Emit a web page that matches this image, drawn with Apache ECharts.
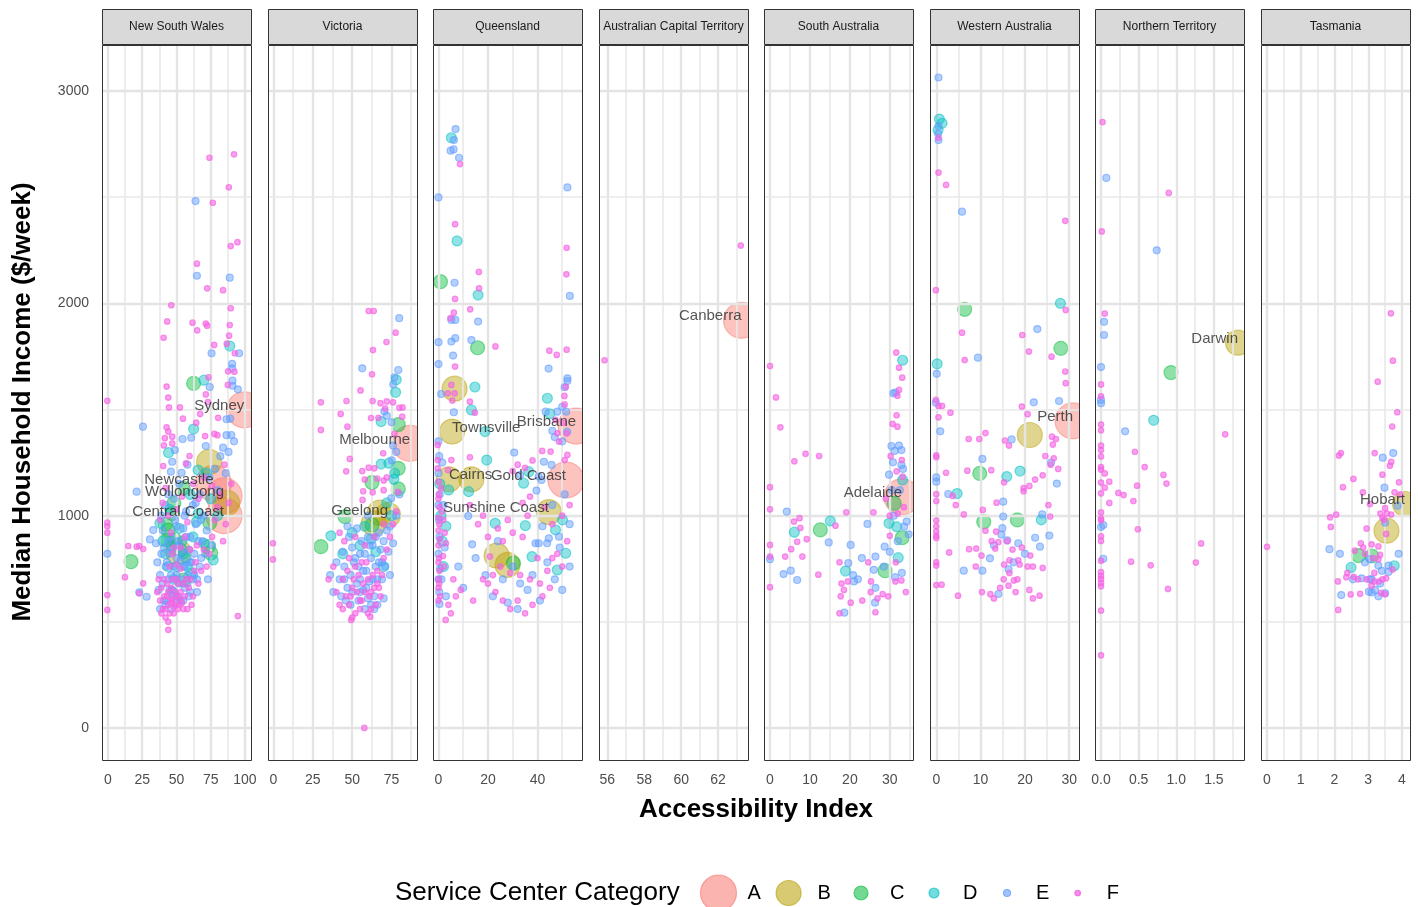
<!DOCTYPE html>
<html><head><meta charset="utf-8">
<script src="https://cdn.jsdelivr.net/npm/echarts@6/dist/echarts.min.js"></script>
<style>html,body{margin:0;padding:0;background:#fff}#c{width:1418px;height:907px}</style>
</head><body><div id="c"></div><script>
// ---------- DATA ----------
const states = ['New South Wales','Victoria','Queensland','Australian Capital Territory','South Australia','Western Australia','Northern Territory','Tasmania'];
const categories = ['A','B','C','D','E','F'];
const xLimits = [[-4.38,104.4],[-3.5,91.2],[-2.22,58.0],[55.55,63.62],[-1.5,35.8],[-1.42,32.2],[-0.08,1.90],[-0.178,4.237]];
const xTicks = [[0,25,50,75,100],[0,25,50,75],[0,20,40],[56,58,60,62],[0,10,20,30],[0,10,20,30],[0,0.5,1,1.5],[0,1,2,3,4]];
const xMinor = [[12.5,37.5,62.5,87.5],[12.5,37.5,62.5,87.5],[10,30,50],[57,59,61,63],[5,15,25,35],[5,15,25],[0.25,0.75,1.25,1.75],[0.5,1.5,2.5,3.5]];
const yLimits = [-151,3217];
const yTicks = [0,1000,2000,3000];
const yMinor = [500,1500,2500];

// New South Wales
const nswA = [[99.5,1498,'Sydney'],[77,1152,'Newcastle'],[84.7,1093,'Wollongong'],[84.7,1000,'Central Coast']];
const nswB = [[73.8,1253],[51.2,830],[87,1060]];
const nswC = [[62.5,1623],[16.8,783],[48.1,1058],[54.9,1129],[74.3,966],[73.1,854],[42.8,885],[44,932],[52.5,838],[54.9,697],[42,960],[49,885],[75,824],[47,1010]];
const nswD = [[88.9,1799],[70,1638],[62.5,1408],[44.2,1297],[65.8,1215],[37.9,964],[64.6,972],[76.8,791],[40,880],[45,1030],[48,700],[52,940],[55,820],[58,760],[62,900],[66,1010],[70,870],[75,1080],[80,1000],[60,1100],[44,760],[72,1200],
 [42,820],[46,860],[50,760],[54,880],[57,800],[61,730],[47,640]];
const nswE = [[-0.5,820],[20.9,1113],[22.8,639],[28.2,618],[30.6,888],[33,932],[25.5,1419],[54.4,1361],[48.8,1309],[46.9,1254],[45.9,1207],[53.7,1202],[60.7,1367],[71.4,1328],[86.5,1379],[89.2,1457],[86.5,1454],[90.6,1715],[90.6,1694],[90.9,1636],[90.9,1612],[94.8,1595],[74.3,1606],[75.6,1765],[95.7,1765],[63.9,2482],[64.9,2130],[88.9,2121],
 [36,780],[38,720],[40,680],[41,850],[42,760],[43,600],[44,700],[45,820],[46,900],[47,650],[48,760],[49,980],[50,720],[51,620],[52,860],[53,790],[54,700],[55,940],[56,760],[57,1020],[58,680],[59,840],[60,900],[61,780],[62,1050],[63,720],[64,960],[66,880],[67,1100],[68,800],[70,1000],[72,930],[74,1180],[76,860],[78,1220],[80,1120],[82,1280],[84,1320],[86,1200],[88,1300],[90,1380],[92,1350],[38,560],[42,580],[46,560],[50,590],[55,600],[60,640],[65,700],[35,870],[39,1000],[44,1100],[52,1150],[58,1240],
 [37,650],[39,820],[41,600],[43,780],[44,880],[45,650],[46,720],[47,840],[48,620],[49,700],[50,800],[51,880],[52,680],[53,600],[54,830],[55,760],[56,660],[57,900],[58,720],[59,620],[60,780],[62,700],[63,820],[65,640],[67,760],[69,880],[71,820],[73,700],[40,930],[42,1050],[48,1080],[50,950],[56,1000],[64,1060],[68,980]];
const nswF = [[74.1,2686],[92,2702],[88.2,2547],[76.5,2474],[89.6,2270],[94.5,2288],[64.9,2187],[72.4,2071],[84,2062],[46.2,1991],[89.6,1977],[43.2,1915],[61.7,1909],[71.4,1905],[72.4,1895],[88.9,1898],[65.1,1873],[40.6,1838],[88.4,1848],[77.5,1804],[86.7,1810],[92.6,1765],[87.7,1680],[92.3,1678],[87.5,1616],[42.8,1608],[73.4,1652],[44,1556],[44.5,1510],[52.5,1510],[71.4,1571],[72.9,1535],[80.4,1461],[-0.5,1541],[54.7,1457],[64.4,1438],[67.3,1479],[42.8,1416],[44,1396],[41.5,1365],[46.9,1372],[70.9,1375],[77.7,1385],[79.9,1379],[40.8,1331],[46.9,1340],[59.5,1281],[40.3,1234],[56.9,1246],
 [-0.5,967],[-0.5,950],[-0.5,920],[-0.5,626],[-0.5,556],[12.4,710],[14.8,857],[20.9,854],[22.8,857],[25.7,843],[22.8,634],[25.7,681],[44,462],[94.8,527],
 [36,640],[38,600],[40,560],[41,700],[42,520],[43,620],[44,580],[45,540],[46,660],[47,600],[48,570],[49,640],[50,700],[51,560],[52,610],[53,750],[54,590],[55,680],[56,620],[58,560],[60,700],[62,620],[64,780],[66,680],[68,740],[70,840],[72,760],[74,820],[76,900],[78,980],[80,1040],[82,1100],[84,880],[86,960],[88,1060],[38,980],[40,1060],[42,1130],[44,1000],[46,920],[48,850],[50,1030],[54,1090],[58,970],[62,1150],[66,1080],[70,1180],[76,1140],[85,1240],[90,1150],
 [37,700],[39,660],[41,620],[43,680],[44,640],[46,590],[47,700],[48,540],[49,580],[50,620],[51,680],[52,580],[53,640],[55,560],[57,700],[59,660],[61,580],[63,740],[45,760],[47,820],[50,770],[53,850],[56,900],[60,840],[65,860],[39,540],[42,560],[44,500],[46,610]];

// Victoria
const vicA = [[86.8,1340,'Melbourne']];
const vicB = [[72.8,1003,'Geelong'],[63.7,964],[67.5,1014]];
const vicC = [[79.3,1429],[79.3,1223],[79.3,1126],[62.6,1156],[45.5,995],[30.1,854],[62.6,956]];
const vicD = [[36.5,905],[68.4,1443],[68.4,1243],[73.3,1247],[77.6,1581],[77,1200],[76.5,1171],[50,920],[55,860],[62,890],[65,830],[70,760],[58,950],[44,820],[75,1000],[72,1060],[78,1640]];
const vicE = [[79.9,1930],[56.4,1694],[79.3,1686],[76.9,1652],[76.1,1619],[70.5,1491],[75.2,1260],[74.8,1082],[72,1470],[75,1440],[78,1300],[76,1330],[48,900],[50,850],[52,800],[54,760],[55,700],[56,880],[57,650],[58,820],[59,740],[60,900],[61,690],[62,800],[63,860],[64,620],[65,760],[66,700],[67,920],[68,840],[69,780],[70,880],[72,930],[74,950],[45,760],[44,830],[42,700],[40,780],[38,640],[36,720],[46,600],[50,640],[54,600],[58,560],[62,580],[66,580],[70,610],[74,720],[76,870],[78,1000],[80,1100],[47,950],[53,940],[60,1000],
 [49,720],[51,780],[53,680],[55,820],[57,740],[59,660],[61,860],[63,700],[65,900],[67,780],[69,700],[71,760],[73,830],[47,660],[45,700],[43,620],[49,580],[55,640],[60,610],[64,560]];
const vicF = [[60.5,1964],[63.7,1964],[77.6,1862],[71.8,1818],[63.2,1780],[62.6,1666],[55.3,1590],[30.1,1534],[46.4,1540],[63,1540],[68,1530],[72,1538],[76,1534],[82,1510],[71,1505],[80,1508],[42.7,1479],[62,1460],[66.7,1461],[81.8,1466],[30.1,1404],[47,1419],[76.9,1385],[69.7,1294],[48.5,1267],[46.2,1209],[56.4,1210],[60.5,1226],[64.1,1223],[58,1170],[66,1175],[70,1165],[72,1180],[57,1115],[63,1110],[70,1120],[79,1112],[56.6,1074],[-0.4,870],[-0.4,794],[57.7,0],[49.4,509],[61.5,524],
 [44,700],[46,620],[48,580],[50,660],[52,540],[54,720],[55,600],[56,780],[58,640],[60,700],[62,560],[64,660],[66,740],[68,620],[70,800],[72,840],[74,900],[76,960],[78,1020],[40,640],[42,580],[45,880],[48,800],[52,900],[58,860],[64,900],[70,960],[35,700],[38,760],[42,920],[60,540],[66,680],[52,760],
 [47,740],[49,620],[51,700],[53,640],[55,560],[57,680],[59,780],[61,620],[63,720],[65,580],[67,660],[69,720],[44,560],[50,520],[56,600],[62,640]];

// Queensland
const qldA = [[55.6,1422,'Brisbane'],[51.5,1168,'Gold Coast']];
const qldB = [[5.5,1396,'Townsville'],[4.2,1171,'Cairns'],[6.5,1598],[13.3,1171],[44.6,1017,'Sunshine Coast'],[23.5,812],[27.9,768]];
const qldC = [[0.8,2102],[15.8,1791],[30.3,776]];
const qldD = [[5.2,2780],[7.5,2294],[16,2039],[14.7,1606],[44,1553],[13.3,1498],[18.8,1396],[36.5,1207],[34.4,1153],[4.1,1121],[12.2,1113],[19.5,1262],[47.3,933],[50.1,980],[35.1,953],[22.9,964],[51.4,823],[37.8,807],[48,744],[1,1000],[1.5,880],[2,760],[0.5,1150],[3,950],[45,1480]];
const qldE = [[6.9,2821],[6.2,2769],[4.9,2719],[6.1,2725],[8.3,2686],[0,2499],[52.1,2546],[6.5,2097],[53.1,2035],[5.2,1922],[6.8,1922],[16,1914],[0,1817],[5.2,1820],[6.8,1836],[13.3,1827],[5.9,1754],[0,1714],[44.5,1693],[52.1,1647],[52.1,1634],[51,1605],[1.1,1573],[6.2,1487],[43.3,1490],[48,1490],[50,1513],[51.6,1490],[47,1370],[50,1350],[52,1395],[46,1400],[30.6,1297],[42.6,1254],[45.7,1239],[33,1192],[40.5,1184],[41.6,1168],[39.6,1118],[12,998],[44.6,893],[48.7,901],[39.2,870],[40.5,870],[43.9,870],[13.6,865],[0.4,584],
 [0,1350],[0.3,1280],[0,1200],[0.5,1100],[0,1050],[0.2,980],[0.4,900],[0,820],[0.6,750],[0,700],[0.3,640],[1.5,1250],[2,1050],[2.5,850],[1.2,700],[3,620],
 [15,800],[19,720],[26,700],[30,760],[33,680],[36,650],[38,720],[41,600],[44,780],[47,700],[50,650],[53,760],[22,620],[28,590],[32,560],[10,660],[42,950],[46,1050],[51,1100],[53,960],[49,850],[24,880],[8,760]];
const qldF = [[8.7,2656],[6.7,2373],[51.8,2262],[16.3,2148],[51.7,2137],[16.4,2071],[6.7,2021],[12.8,1972],[6.2,1956],[4.8,1930],[23,1797],[44.8,1777],[47.8,1757],[51.8,1782],[6.7,1702],[50.9,1564],[5.2,1616],[3.8,1576],[6.5,1576],[5.6,1542],[12.7,1537],[14.7,1485],[51,1524],[51.4,1607],[47.3,1451],[50.5,1438],[51.8,1388],[48,1388],[-0.3,1333],[-0.3,1262],[-0.3,1223],[3.8,1215],[5.2,1262],[12.7,1275],[41.9,1305],[45.3,1302],[48.7,1349],[52.1,1286],[51,1262],[32,1240],[35,1225],[38,1260],[30,1210],
 [0,1160],[0.2,1100],[0,1080],[0.4,1040],[0,990],[0.3,960],[0,930],[0.5,890],[0,860],[0.2,800],[0,780],[0.4,740],[0,700],[0.3,680],[0,660],[0.6,620],[0,600],[1,1130],[1.5,1020],[2,980],[2.5,920],[3,870],[1.8,810],[2.2,760],[2.9,509],[5,540],[4,580],[6,700],[9,650],[7,620],
 [12.7,1050],[16,960],[18,1000],[20,900],[24,940],[28,980],[30,920],[34,900],[36,1000],[26,880],[20.8,807],[25,760],[29,730],[33,720],[37,700],[41,680],[44,740],[46,800],[48,820],[50,760],[52,880],[18,700],[20,680],[23,640],[26,600],[29,560],[32,600],[35,540],[38,580],[42,620],[45,660],[22,720],[14,600],[40,800],[46,960],[50,1000],[53,1050],[43,1040],[37,1090],[34,1060]];

// Australian Capital Territory
const actA = [[63.27,1920,'Canberra']];
const actB = [];
const actC = [];
const actD = [];
const actE = [];
const actF = [[63.23,2272],[55.85,1732]];

// South Australia
const saA = [[33.06,1088,'Adelaide']];
const saB = [];
const saC = [[31.1,1058],[12.6,933],[33.1,896],[28.8,741]];
const saD = [[33.2,1732],[33.2,1168],[15.1,975],[6.1,922],[29.8,964],[31.7,948],[18.9,739],[32.1,802]];
const saE = [[30.9,1576],[31.4,1580],[30.4,1328],[31.2,1305],[32.9,1309],[32.3,1330],[30.8,1251],[32.9,1239],[33.3,1220],[29.8,1193],[4.2,1019],[24.4,961],[34.2,972],[33.6,948],[34.7,912],[14.7,874],[20.2,862],[28.7,854],[26.4,807],[0,795],[3.4,725],[5.2,741],[6.8,697],[19.6,776],[20.8,720],[21,690],[23,800],[26,745],[28.5,760],[31.3,710],[33,730],[26.4,660],[26.3,590],[18.6,543],[22,700],[30,830],[32,880],[31,1000],[32.5,1120],[30.5,1120]];
const saF = [[31.6,1768],[32.3,1697],[33.1,1650],[0,1705],[1.5,1557],[32.3,1592],[31.9,1565],[2.6,1416],[31.7,1473],[30.7,1432],[31.9,1419],[8.9,1291],[12.3,1281],[6.1,1256],[30.2,1280],[33,1262],[31.7,1209],[33.2,1184],[0,1134],[0,1030],[19.1,1016],[25.9,1016],[6,972],[7.4,988],[7.6,942],[16.4,953],[0,862],[0,807],[0,663],[3.8,807],[5.3,842],[8.1,807],[9.2,889],[6.8,877],[12.1,722],[17.4,780],[17.9,680],[19.5,690],[18.5,650],[17.7,620],[20.2,590],[23.1,600],[25.2,640],[26.9,610],[29.6,620],[25.3,690],[28.2,630],[31.4,690],[32.9,695],[34,640],[17.4,540],[26.4,545],[30,1000],[29,1080],[32,1010],[33.5,1040],[30,905],[31.5,780],[24.6,780]];

// Western Australia
const waA = [[30.86,1446,'Perth']];
const waB = [[21.1,1380]];
const waC = [[6.4,1972],[28.1,1788],[9.8,1199],[10.7,971],[18.3,980]];
const waD = [[0.7,2868],[1.3,2848],[0.4,2817],[28,2000],[0.2,1715],[18.9,1210],[15.9,1184],[4.7,1104],[23.7,980]];
const waE = [[0.5,3064],[0.5,2835],[0.4,2800],[0.5,2769],[5.8,2432],[22.8,1879],[9.4,1744],[0.1,1668],[-0.1,1532],[22,1534],[27.7,1540],[0.9,1397],[17,1359],[10.4,1267],[25.9,1250],[27.2,1151],[0,1180],[0,1160],[2.7,1102],[15.1,1066],[23.9,1006],[15.1,996],[14.9,941],[14.7,911],[16,884],[22.3,896],[25.5,906],[23.4,854],[12.1,799],[17.4,780],[16.3,747],[10.4,741],[6.2,741],[14,631],[18.5,870],[20,820],[13,860]];
const waF = [[0.5,2780],[0.5,2616],[2.2,2558],[29.1,2389],[-0.1,2062],[29.2,1969],[5.8,1862],[19.4,1851],[20.9,1773],[26,1749],[29.1,1679],[29.2,1624],[6.4,1733],[-0.1,1545],[0.5,1517],[1.3,1517],[0.5,1463],[3.2,1485],[19.3,1514],[20.6,1478],[7.3,1361],[9.7,1361],[11.1,1389],[15.5,1354],[16.4,1330],[26.1,1372],[27,1361],[26.3,1335],[0,1284],[0,1275],[24.6,1281],[2.2,1202],[7,1212],[12.4,1214],[15.3,1157],[26.5,1270],[27.5,1220],[25.8,1240],[24,1190],[22.3,1170],[21,1140],[19.7,1130],[19.7,1115],[0,1101],[0,1069],[3.7,1093],[4.4,1050],[13.6,1061],[10.5,1027],[6.2,1006],[25.3,1050],[25.7,996],[0,977],[0,950],[0,925],[0,905],[0,895],[11.1,929],[13.5,925],[12.5,880],[14,875],[13.3,845],[7.4,842],[9,845],[10.2,812],[2.9,827],[21.2,812],[21.8,760],[24,754],[19.3,850],[16,880],[17.2,840],[18.5,790],[18.8,770],[20.6,760],[15.3,770],[16.5,790],[16.5,730],[15.2,700],[18.3,700],[17.5,695],[14.4,660],[16.3,670],[17.9,640],[21,650],[10.3,640],[12.2,630],[13,610],[21.8,610],[23.3,623],[8.9,760],[4.9,623],[0,780],[0,765],[0,673],[1.2,675]];

// Northern Territory
const ntA = [];
const ntB = [[1.82,1815,'Darwin']];
const ntC = [[0.93,1674]];
const ntD = [[0.70,1449]];
const ntE = [[0.07,2591],[0.74,2250],[0.04,1913],[0.04,1851],[0,1700],[0,1530],[0,1545],[0.32,1397],[0.03,956],[0,947],[0.03,797]];
const ntF = [[0.02,2854],[0.90,2520],[0.01,2339],[0.05,1952],[0,1618],[0,1562],[0,1429],[0,1402],[1.65,1383],[0,1330],[0,1309],[0,1279],[0.45,1301],[0,1229],[0,1217],[0.05,1199],[0,1156],[0.05,1132],[0,1105],[0.58,1229],[0.83,1192],[0.87,1151],[0.11,1160],[0.48,1141],[0.23,1107],[0.3,1097],[0.11,1060],[0.43,1069],[0,1015],[0,986],[0,978],[0.49,936],[0,903],[0,881],[1.33,869],[0,788],[0.4,783],[0.66,766],[1.26,779],[0,734],[0,716],[0,702],[0,683],[0,667],[0.89,655],[0,553],[0,342]];

// Tasmania
const tasA = [];
const tasB = [[4.09,1055,'Hobart'],[3.54,929]];
const tasC = [[2.71,812],[3.1,810]];
const tasD = [[2.49,756],[3.77,764]];
const tasE = [[3.43,1273],[3.74,1295],[3.48,1132],[3.87,1047],[3.5,967],[1.85,842],[2.16,820],[3.05,795],[2.9,780],[3.3,765],[3.6,765],[3.4,740],[3.6,735],[3.9,820],[2.55,700],[2.8,705],[3.05,700],[3.1,700],[3.35,680],[2.2,626],[3.02,642],[3.1,638],[3.5,635],[3.2,650],[3.3,620]];
const tasF = [[3.67,1953],[3.73,1730],[3.28,1631],[3.86,1487],[3.71,1420],[2.13,1283],[2.19,1295],[3.19,1295],[3.68,1253],[3.64,1235],[3.42,1193],[2.56,1173],[2.25,1134],[3.91,1157],[2.84,1110],[3.78,1110],[3.95,1100],[3.05,1055],[3.5,1035],[3.36,1010],[3.55,1010],[3.68,1005],[3.42,990],[3.47,980],[1.87,992],[2.05,1005],[1.89,947],[2.95,939],[3.53,914],[0,853],[2.78,870],[3.1,865],[3.3,855],[2.9,820],[3.15,800],[2.85,850],[2.6,835],[3.35,815],[3.3,795],[3.72,746],[2.38,730],[2.35,710],[2.57,712],[2.1,690],[2.7,700],[2.95,700],[3.18,730],[3.17,690],[3.42,700],[3.53,705],[3.32,690],[3.1,670],[2.48,629],[2.76,632],[3.38,636],[3.5,630],[2.11,556]];

// ---------- STYLE / LAYOUT ----------
const stateSeries = [
  [nswA,nswB,nswC,nswD,nswE,nswF],[vicA,vicB,vicC,vicD,vicE,vicF],[qldA,qldB,qldC,qldD,qldE,qldF],[actA,actB,actC,actD,actE,actF],
  [saA,saB,saC,saD,saE,saF],[waA,waB,waC,waD,waE,waF],[ntA,ntB,ntC,ntD,ntE,ntF],[tasA,tasB,tasC,tasD,tasE,tasF]];
const catRGB = ['248,118,109','183,159,0','0,186,56','0,191,196','97,156,255','245,100,227'];
const catSize = [36,25,14,10,7,5.5];
const catFillA = [0.55,0.55,0.55,0.55,0.6,0.75];
const catStrokeA = [0.6,0.6,0.6,0.65,0.75,0.85];
const FONT = '"Liberation Sans", Arial, Helvetica, sans-serif';
const lefts = [102,268,433,599,764,930,1095,1261];
const W = 149, TOP = 45, H = 715;

const option = {animation:false, grid:[], xAxis:[], yAxis:[], series:[], graphic:{elements:[]}};
const G = option.graphic.elements;

lefts.forEach((L,i)=>{
  option.grid.push({left:L, top:TOP, width:W, height:H, containLabel:false, outerBoundsMode:'none', show:false});
  option.xAxis.push({type:'value', gridIndex:i, min:xLimits[i][0], max:xLimits[i][1],
    axisLine:{show:false}, splitLine:{show:false}, minorTick:{show:false},
    axisTick:{show:true, customValues:xTicks[i], length:6, lineStyle:{color:'#333', width:1}},
    axisLabel:{show:true, customValues:xTicks[i], hideOverlap:false, showMinLabel:true, showMaxLabel:true,
      formatter: v => i===6 ? Number(v).toFixed(1) : String(v), color:'#4D4D4D', fontSize:14, fontFamily:FONT, margin:13}});
  option.yAxis.push({type:'value', gridIndex:i, min:yLimits[0], max:yLimits[1],
    axisLine:{show:false}, splitLine:{show:false},
    axisTick:{show:i===0, customValues:yTicks, length:6, lineStyle:{color:'#333', width:1}},
    axisLabel:{show:i===0, customValues:yTicks, formatter: v => String(v), color:'#4D4D4D', fontSize:14, fontFamily:FONT, margin:13}});

  const ml = [];
  xTicks[i].forEach(v=>ml.push({xAxis:v, lineStyle:{color:'#E4E4E4', width:2.4, type:'solid'}}));
  xMinor[i].forEach(v=>ml.push({xAxis:v, lineStyle:{color:'#E9E9E9', width:1.6, type:'solid'}}));
  yTicks.forEach(v=>ml.push({yAxis:v, lineStyle:{color:'#E4E4E4', width:2.4, type:'solid'}}));
  yMinor.forEach(v=>ml.push({yAxis:v, lineStyle:{color:'#E9E9E9', width:1.6, type:'solid'}}));
  option.series.push({type:'scatter', xAxisIndex:i, yAxisIndex:i, data:[[xLimits[i][0],yLimits[0]]], symbolSize:0, z:1, silent:true,
    itemStyle:{color:'rgba(0,0,0,0)'},
    markLine:{silent:true, symbol:['none','none'], label:{show:false}, animation:false, emphasis:{disabled:true},
      lineStyle:{color:'#E4E4E4', type:'solid'}, data:ml}});

  stateSeries[i].forEach((arr,j)=>{
    if(!arr.length) return;
    option.series.push({type:'scatter', name:categories[j], xAxisIndex:i, yAxisIndex:i, z:2+j, silent:true,
      symbol:'circle', symbolSize:catSize[j], data:arr.map(p=>[p[0],p[1]]),
      itemStyle:{color:`rgba(${catRGB[j]},${catFillA[j]})`, borderColor:`rgba(${catRGB[j]},${catStrokeA[j]})`, borderWidth:1.2}});
  });

  const named = [];
  stateSeries[i].forEach(arr=>arr.forEach(p=>{ if(p[2]) named.push(p); }));
  const mid = (xLimits[i][0]+xLimits[i][1])/2;
  if(named.length) option.series.push({type:'scatter', xAxisIndex:i, yAxisIndex:i, z:20, silent:true, symbolSize:1,
    itemStyle:{color:'rgba(0,0,0,0)'},
    data: named.map(p=>({value:[p[0],p[1]], label:{show:true, position:'inside', formatter:p[2],
      align: p[0] < mid ? 'left' : 'right', verticalAlign:'middle', offset:[0,-4],
      color:'#2b2b2b', fontSize:15, fontFamily:FONT}}))});

  // strip
  G.push({type:'rect', z:100, shape:{x:L+0.5, y:9.5, width:W, height:35}, style:{fill:'#D9D9D9', stroke:'#333', lineWidth:1}});
  G.push({type:'text', z:101, x:L+W/2, y:27, style:{text:states[i], font:`12px ${FONT}`, fill:'#1A1A1A', textAlign:'center', textVerticalAlign:'middle', verticalAlign:'middle'}});
  // clip cover in gap to the right
  const next = i<7 ? lefts[i+1] : 1418;
  G.push({type:'rect', z:99, shape:{x:L+W+1, y:TOP-1, width:next-(L+W+1), height:H+2}, style:{fill:'#fff'}});
  // panel border
  G.push({type:'rect', z:100, shape:{x:L+0.5, y:TOP+0.5, width:W, height:H}, style:{fill:'none', stroke:'#333', lineWidth:1}});
});

// axis titles
G.push({type:'text', z:101, x:756, y:810, style:{text:'Accessibility Index', font:`bold 26px ${FONT}`, fill:'#000', textAlign:'center', textVerticalAlign:'middle', verticalAlign:'middle'}});
G.push({type:'text', z:101, x:23, y:402, rotation:Math.PI/2, style:{text:'Median Household Income ($/week)', font:`bold 26px ${FONT}`, fill:'#000', textAlign:'center', textVerticalAlign:'middle', verticalAlign:'middle'}});

// legend
const legendKeyX = [718.5,788.6,861,934,1007,1077.7];
const legendY = 893;
G.push({type:'text', z:101, x:395, y:legendY, style:{text:'Service Center Category', font:`26px ${FONT}`, fill:'#000', textAlign:'left', textVerticalAlign:'middle', verticalAlign:'middle'}});
categories.forEach((c,j)=>{
  G.push({type:'circle', z:101, shape:{cx:legendKeyX[j], cy:legendY, r:catSize[j]/2}, style:{fill:`rgba(${catRGB[j]},${catFillA[j]})`, stroke:`rgba(${catRGB[j]},${catStrokeA[j]})`, lineWidth:1.2}});
  G.push({type:'text', z:101, x:legendKeyX[j]+29, y:legendY, style:{text:c, font:`20px ${FONT}`, fill:'#000', textAlign:'left', textVerticalAlign:'middle', verticalAlign:'middle'}});
});

const chart = echarts.init(document.getElementById('c'), null, {renderer:'canvas', width:1418, height:907});
chart.setOption(option);
</script></body></html>
